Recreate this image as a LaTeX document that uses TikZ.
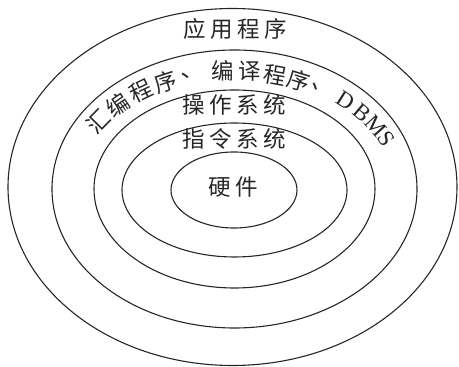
\documentclass[tikz,border=0pt]{standalone}
\usepackage{fontspec}
\newfontfamily\cjk{Noto Sans CJK SC}
\newfontfamily\lat{Liberation Serif}
\newcommand\gp{\hspace{4.5pt}}
\begin{document}
\begin{tikzpicture}[x=1pt,y=1pt,
  ring/.style={draw=black!85, line width=1.1pt},
  lbl/.style={font=\cjk\fontsize{22.5}{22.5}\selectfont, inner sep=0pt, text=black!85},
  arcch/.style={font=\cjk\fontsize{22.5}{22.5}\selectfont, inner sep=0pt, text=black!85},
  arclat/.style={font=\lat\fontsize{23}{23}\selectfont, inner sep=0pt, text=black!85}]
\useasboundingbox (0,0) rectangle (459,367);
\coordinate (c0) at (232.5,180);
\coordinate (c1) at (234.5,178);
\coordinate (c2) at (234.5,178);
\coordinate (c3) at (234.5,177);
\coordinate (c4) at (234,177);
\draw[ring] (c0) ellipse [x radius=224.5, y radius=178.5];
\draw[ring] (c1) ellipse [x radius=182.5, y radius=139];
\draw[ring] (c2) ellipse [x radius=140.5, y radius=99];
\draw[ring] (c3) ellipse [x radius=112.5, y radius=67];
\draw[ring] (c4) ellipse [x radius=63, y radius=38];
\node[lbl] (app) at (235,338) {应\gp 用\gp 程\gp 序};
\node[lbl] (os) at (234,262) {操\gp 作\gp 系\gp 统};
\node[lbl] (isa) at (234,228) {指\gp 令\gp 系\gp 统};
\node[lbl] (hw) at (233.5,179.5) {硬\gp 件};
\foreach \t/\ch [count=\i] in {145/汇,134.5/编,124/程,114.5/序,104.5/、,94/编,84.5/译,75.5/程,67/序,58/、}{
  \pgfmathsetmacro\rot{atan2(-cos(\t)/166, sin(\t)/118)}
  \node[arcch, rotate=\rot] (a\i) at ({234+166*cos(\t)},{178+118*sin(\t)}) {\ch};
}
\foreach \t/\ch [count=\i] in {48.5/D,40/B,32.5/M,25/S}{
  \pgfmathsetmacro\rot{atan2(-cos(\t)/166, sin(\t)/118)}
  \node[arclat, rotate=\rot] (b\i) at ({234+168*cos(\t)},{178+118*sin(\t)}) {\ch};
}
\end{tikzpicture}
\end{document}
